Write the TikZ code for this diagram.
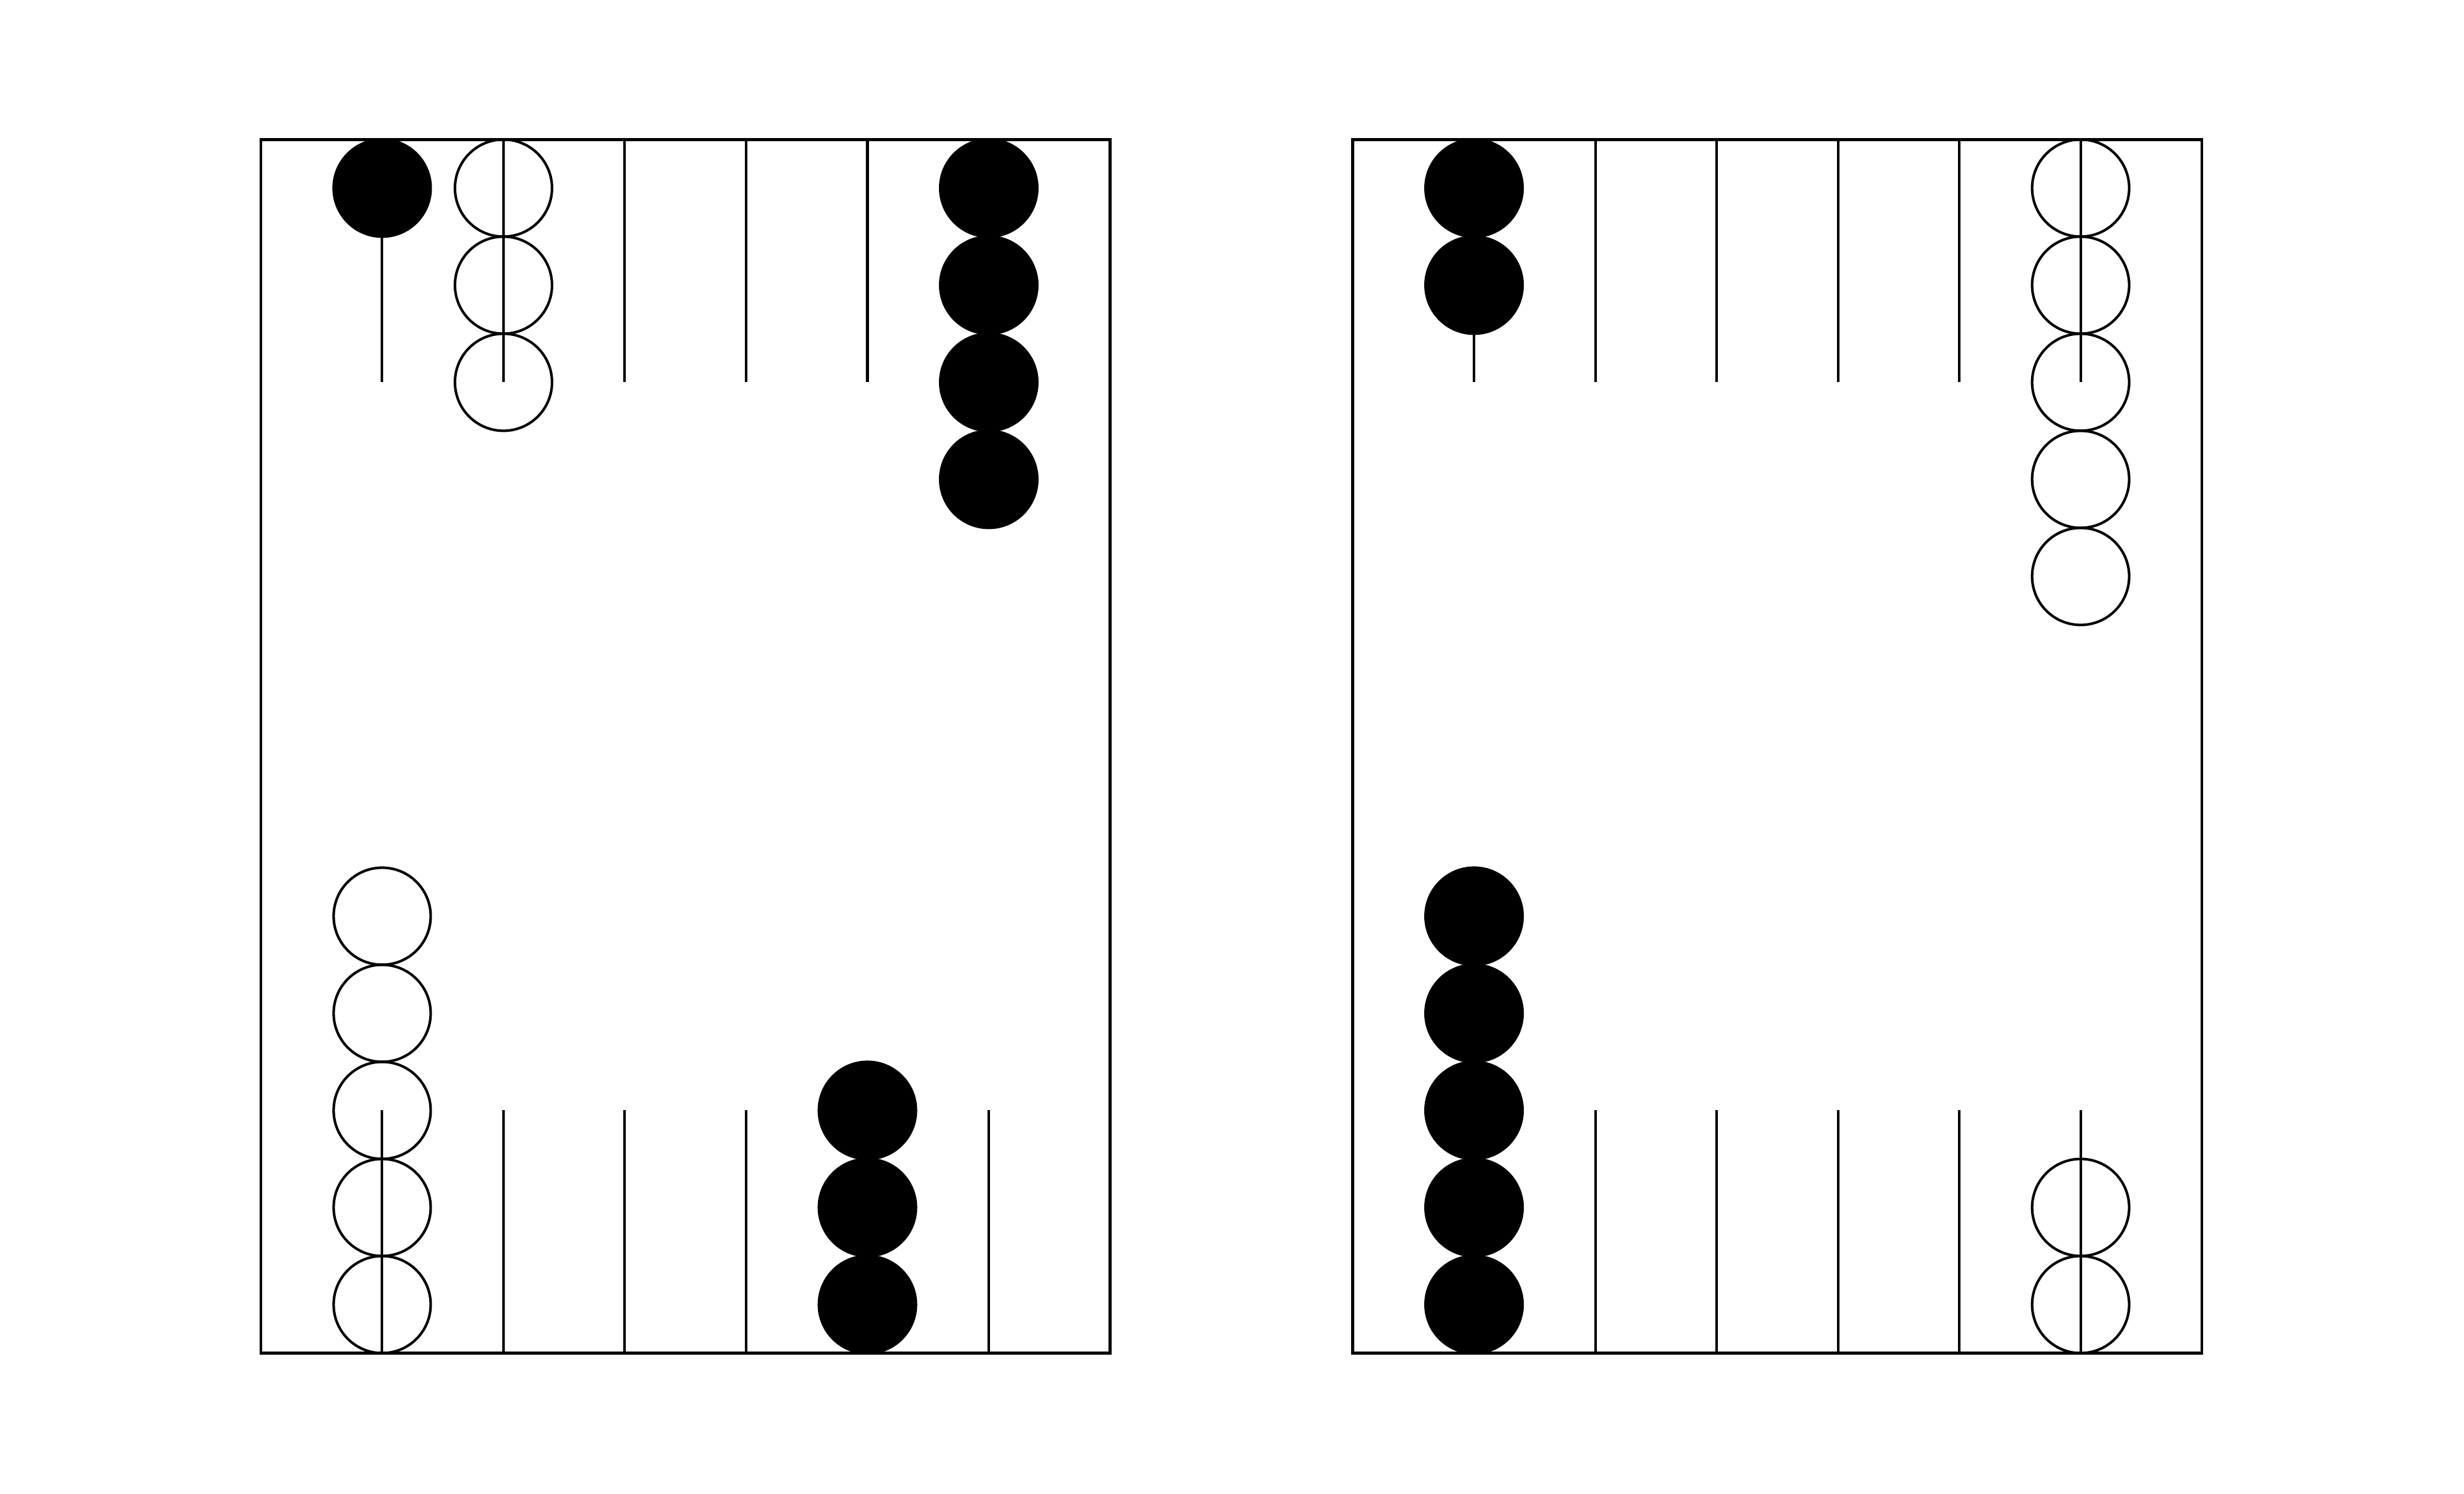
\documentclass[tikz,border=0pt]{standalone}
\begin{document}
\begin{tikzpicture}[x=1cm,y=1cm,
  frame/.style={draw=black,line width=0.65pt},
  spike/.style={draw=black,line width=0.6pt},
  wchk/.style={draw=black,line width=0.6pt},
  bchk/.style={draw=black,fill=black,line width=0.6pt}]
\useasboundingbox (0,0) rectangle (20.31,12.31);
% boards: origin at lower-left corner, 7 x 10
\foreach \bx/\nm in {2.15/L, 11.15/R}{
  \draw[frame] (\bx,1.16) rectangle ++(7,10);
  \foreach \c in {1,...,6}{
    \draw[spike] (\bx+\c,11.16) -- ++(0,-2);
    \draw[spike] (\bx+\c,1.16) -- ++(0,2);
  }
}
% white checkers: list of board-x, column, top(1)/bottom(0), count
\foreach \bx/\c/\t/\n in {2.15/2/1/3, 2.15/1/0/5, 11.15/6/1/5, 11.15/6/0/2}{
  \foreach \k in {1,...,\n}{
    \ifnum\t=1
      \draw[wchk] (\bx+\c,11.16-0.4-0.8*\k+0.8) circle (0.4);
    \else
      \draw[wchk] (\bx+\c,1.16+0.4+0.8*\k-0.8) circle (0.4);
    \fi
  }
}
% black checkers
\foreach \bx/\c/\t/\n in {2.15/1/1/1, 2.15/6/1/4, 2.15/5/0/3, 11.15/1/1/2, 11.15/1/0/5}{
  \foreach \k in {1,...,\n}{
    \ifnum\t=1
      \draw[bchk] (\bx+\c,11.16-0.4-0.8*\k+0.8) circle (0.4);
    \else
      \draw[bchk] (\bx+\c,1.16+0.4+0.8*\k-0.8) circle (0.4);
    \fi
  }
}
\end{tikzpicture}
\end{document}
